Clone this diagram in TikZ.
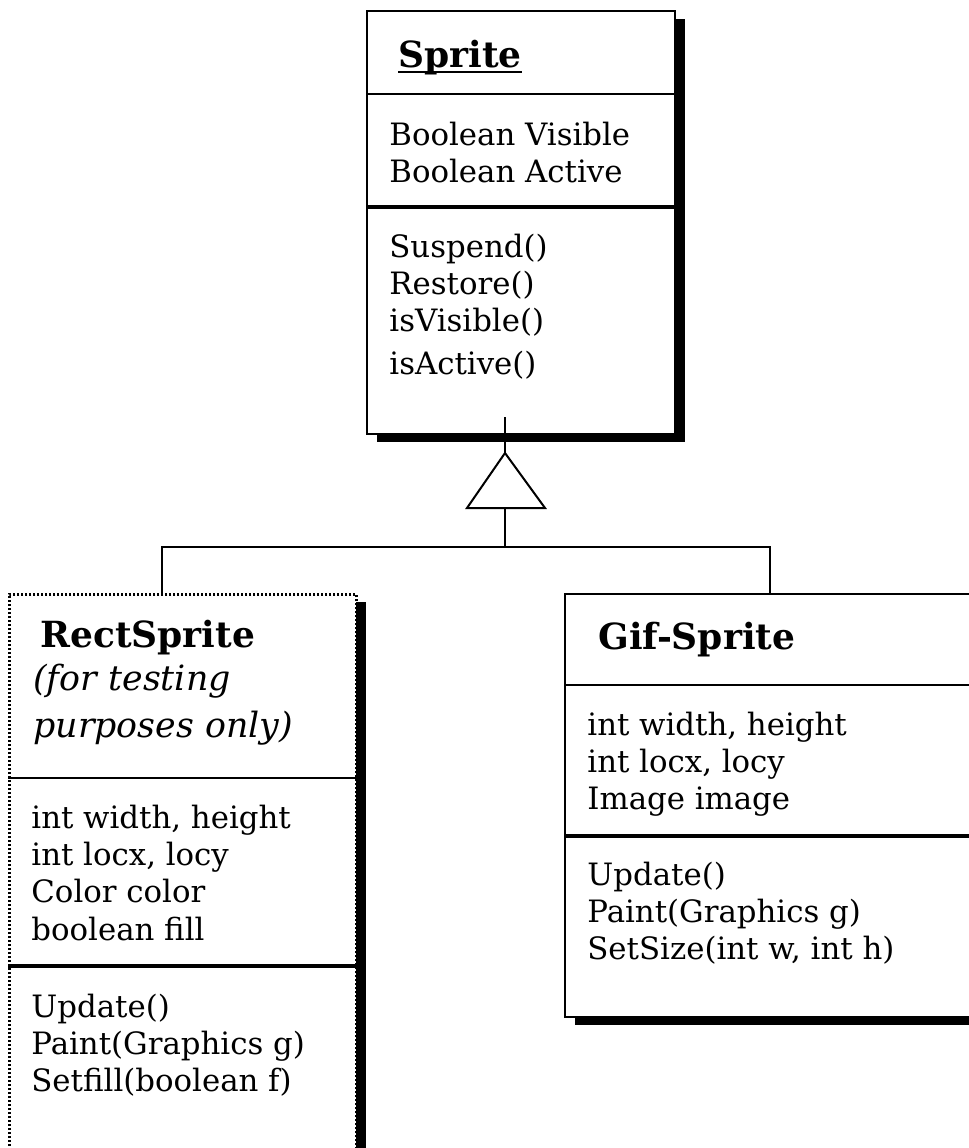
\documentclass[tikz,border=0pt]{standalone}
\usepackage{fontspec}
\setmainfont{DejaVu Serif}
\usetikzlibrary{shadows}

\tikzset{
  classbox/.style={draw, line width=1pt, fill=white, rectangle, inner sep=0pt,
    drop shadow={shadow xshift=5pt, shadow yshift=-4pt, fill=black, opacity=1}},
  dottedbox/.style={classbox, dash pattern=on 1pt off 1pt, line width=1.4pt},
  sep/.style={line width=1pt},
  thicksep/.style={line width=1.8pt},
  link/.style={line width=1pt},
  title/.style={anchor=base west, inner sep=0pt, font=\fontsize{18}{23}\selectfont\bfseries},
  txt/.style={anchor=base west, inner sep=0pt, font=\fontsize{15.4}{18.7}\selectfont},
  note/.style={anchor=base west, inner sep=0pt, font=\fontsize{17.4}{23.5}\selectfont\itshape},
}
\newcommand{\rows}[1]{\begin{tabular}[t]{@{}l@{}}#1\end{tabular}}

\begin{document}
\begin{tikzpicture}[x=0.5pt, y=-0.5pt]
  \useasboundingbox[fill=white] (0,0) rectangle (969,1148);

  % ---- Sprite ----
  \node[classbox, anchor=north west, minimum width=154pt, minimum height=211.5pt] (sprite) at (366,10) {};
  \draw[sep] (sprite.west |- 0,94) -- (sprite.east |- 0,94);
  \draw[thicksep] (sprite.west |- 0,207) -- (sprite.east |- 0,207);
  \node[title] (spritetitle) at (398,67) {Sprite};
  \draw[line width=1.2pt] ([yshift=-2.5pt]spritetitle.base west) -- ([yshift=-2.5pt]spritetitle.base east);
  \node[txt] (spriteattr) at (389,145) {\rows{Boolean Visible\\Boolean Active}};
  \node[txt] (spriteops) at (389,257) {\rows{Suspend()\\Restore()\\isVisible()\\[2.5pt]isActive()}};

  % ---- RectSprite ----
  \node[dottedbox, anchor=north west, minimum width=173.5pt, minimum height=320pt] (rect) at (8,593) {};
  \draw[sep] (rect.west |- 0,778) -- (rect.east |- 0,778);
  \draw[thicksep] (rect.west |- 0,966) -- (rect.east |- 0,966);
  \node[title] (recttitle) at (40,647) {RectSprite};
  \node[note] (rectnote) at (33,690) {\rows{(for testing\\purposes only)}};
  \node[txt] (rectattr) at (31,828) {\rows{int width, height\\int locx, locy\\Color color\\boolean fill}};
  \node[txt] (rectops) at (31,1017) {\rows{Update()\\Paint(Graphics g)\\Setfill(boolean f)}};

  % ---- Gif-Sprite ----
  \node[classbox, anchor=north west, minimum width=250pt, minimum height=211.5pt] (gif) at (564,593) {};
  \draw[sep] (gif.west |- 0,685) -- (gif.east |- 0,685);
  \draw[thicksep] (gif.west |- 0,836) -- (gif.east |- 0,836);
  \node[title] (giftitle) at (598,649) {Gif-Sprite};
  \node[txt] (gifattr) at (587,735) {\rows{int width, height\\int locx, locy\\Image image}};
  \node[txt] (gifops) at (587,885) {\rows{Update()\\Paint(Graphics g)\\SetSize(int w, int h)}};

  % ---- generalization ----
  \coordinate (stub) at (505,417);
  \coordinate (apex) at (505,453);
  \coordinate (baseL) at (467,508);
  \coordinate (baseR) at (545,508);
  \coordinate (baseM) at (505,508);
  \coordinate (barL) at (162,547);
  \coordinate (barR) at (770,547);
  \coordinate (barM) at (505,547);
  \draw[link] (stub) -- (apex);
  \draw[link, line join=miter] (apex) -- (baseR) -- (baseL) -- cycle;
  \draw[link] (baseM) -- (barM);
  \draw[link] (barL |- rect.north) -- (barL) -- (barR) -- (barR |- gif.north);
\end{tikzpicture}
\end{document}
